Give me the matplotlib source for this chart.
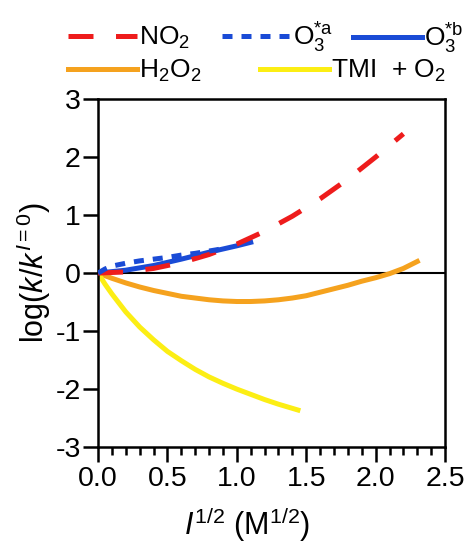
import matplotlib
matplotlib.use('Agg')
import matplotlib.pyplot as plt
from matplotlib.ticker import MultipleLocator

plt.rcParams['font.family'] = ['Liberation Sans', 'DejaVu Sans']
plt.rcParams['mathtext.fontset'] = 'custom'
plt.rcParams['mathtext.rm'] = 'Liberation Sans'
plt.rcParams['mathtext.it'] = 'Liberation Sans:italic'

# values
no2_x = [0.0, 0.2, 0.4, 0.6, 0.8, 1.0, 1.2, 1.4, 1.6, 1.8, 2.0, 2.2]
no2_y = [0.0, 0.02, 0.08, 0.18, 0.32, 0.50, 0.72, 0.98, 1.28, 1.62, 2.00, 2.40]

o3a_x = [0.0, 0.05, 0.1, 0.2, 0.3, 0.4, 0.5, 0.6, 0.7, 0.8, 0.9]
o3a_y = [0.0, 0.07, 0.12, 0.17, 0.21, 0.24, 0.27, 0.31, 0.34, 0.38, 0.42]

o3b_x = [0.0, 0.2, 0.4, 0.6, 0.8, 1.0, 1.1]
o3b_y = [0.0, 0.05, 0.13, 0.24, 0.36, 0.47, 0.53]

h2o2_x = [0.0, 0.1, 0.2, 0.3, 0.4, 0.5, 0.6, 0.7, 0.8, 0.9, 1.0, 1.1,
          1.2, 1.3, 1.4, 1.5, 1.6, 1.7, 1.8, 1.9, 2.0, 2.1, 2.2, 2.3]
h2o2_y = [0.0, -0.09, -0.17, -0.24, -0.30, -0.35, -0.40, -0.43, -0.46, -0.48, -0.49, -0.49,
          -0.48, -0.46, -0.43, -0.39, -0.33, -0.27, -0.21, -0.14, -0.08, -0.01, 0.08, 0.20]

tmi_x = [0.0, 0.05, 0.1, 0.2, 0.3, 0.4, 0.5, 0.6, 0.7, 0.8, 0.9, 1.0, 1.1, 1.2, 1.3, 1.44]
tmi_y = [0.0, -0.19, -0.36, -0.67, -0.93, -1.15, -1.35, -1.51, -1.66, -1.79, -1.90, -2.00,
         -2.09, -2.18, -2.26, -2.36]

labels = [r'NO$_2$', r'O$_3^{\mathrm{*a}}$', r'O$_3^{\mathrm{*b}}$', r'H$_2$O$_2$', r'TMI  + O$_2$']
colors = ['#ee1c1c', '#1a4bd6', '#1a4bd6', '#f5a21e', '#fcee14']

fig = plt.figure(figsize=(4.76, 5.5), dpi=100)
ax = fig.add_axes([0.206, 0.187, 0.729, 0.633])

lw = 3.6
ax.axhline(0, color='black', lw=1.5, zorder=1)
l_o3b, = ax.plot(o3b_x, o3b_y, color=colors[2], lw=lw, label=labels[2], zorder=2)
l_no2, = ax.plot(no2_x, no2_y, color=colors[0], lw=lw, dashes=(5, 4.5), label=labels[0], zorder=3)
l_o3a, = ax.plot(o3a_x, o3a_y, color=colors[1], lw=lw, dashes=(2, 1.8), label=labels[1], zorder=4)
l_h2o2, = ax.plot(h2o2_x, h2o2_y, color=colors[3], lw=lw, label=labels[3], zorder=2)
l_tmi, = ax.plot(tmi_x, tmi_y, color=colors[4], lw=lw, label=labels[4], zorder=2)

ax.set_xlim(0, 2.5)
ax.set_ylim(-3, 3)
ax.xaxis.set_major_locator(MultipleLocator(0.5))
ax.xaxis.set_minor_locator(MultipleLocator(0.1))
ax.yaxis.set_major_locator(MultipleLocator(1))
ax.xaxis.set_major_formatter(plt.FormatStrFormatter('%.1f'))
ax.yaxis.set_major_formatter(plt.FormatStrFormatter('%d'))

for s in ax.spines.values():
    s.set_linewidth(1.8)
ax.tick_params(which='major', direction='out', length=10.5, width=1.8, labelsize=20.5, pad=2)
ax.tick_params(which='minor', direction='out', length=5.5, width=1.8)
ax.tick_params(axis='x', which='major', pad=3)

ax.set_xlabel(r'$I^{1/2}$ (M$^{1/2}$)', fontsize=22)
ax.xaxis.set_label_coords(0.43, -0.165)
ax.set_ylabel(r'log($k$/$k^{I=0}$)', fontsize=22)
ax.yaxis.set_label_coords(-0.13, 0.5)

# legend entries placed one by one like the original
entries = [(l_no2, 68, 38), (l_o3a, 222, 38), (l_o3b, 353, 38),
           (l_h2o2, 68, 71), (l_tmi, 260, 71)]
for h, px, py in entries:
    fig.legend([h], [h.get_label()], loc='center left',
               bbox_to_anchor=(px / 476, 1 - py / 550), frameon=False,
               fontsize=19, handlelength=2.6, handletextpad=0.1,
               borderpad=0, borderaxespad=0)

fig.savefig('out.png', dpi=100)
